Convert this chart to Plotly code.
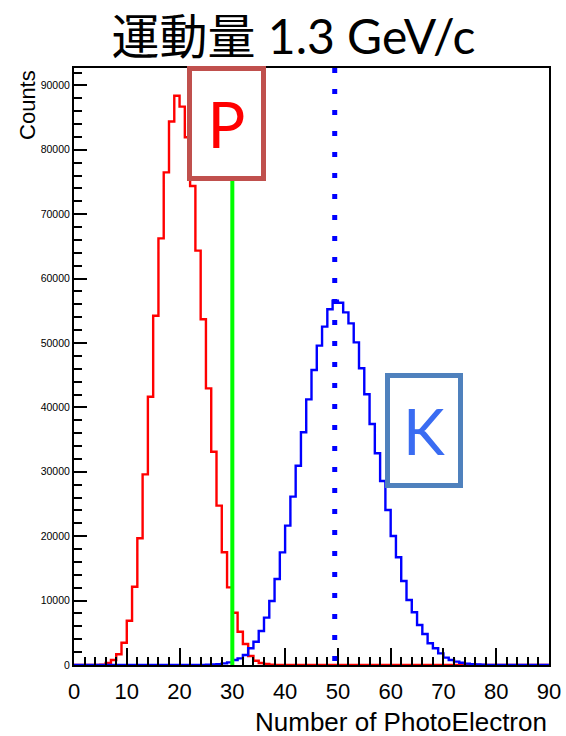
import plotly.graph_objects as go

# ---- data ----
n_bins = 90
bin_width = 1
red_start = 5
red_counts = [30, 300, 780, 1660, 3460, 6880, 12160, 19670, 29600, 41660,
              54240, 66250, 76500, 84400, 88400, 86700, 81940, 74380, 64340, 53680,
              42960, 33120, 24740, 17500, 12060, 8120, 5170, 3260, 1400, 670,
              300, 150, 60, 20]
blue_start = 25
blue_counts = [30, 70, 130, 250, 400, 780, 1035, 1550, 2590, 3620,
               5280, 7350, 9940, 13350, 17490, 21640, 26140, 30950, 36130, 41250,
               45810, 49590, 52540, 55230, 56570, 56260, 54760, 53050, 50100, 46070,
               42030, 37420, 32870, 28570, 24070, 20030, 16720, 13040, 10090, 8180,
               6210, 4810, 3370, 2590, 1810, 1140, 780, 520, 350, 220,
               130, 80, 40, 20]
cut_value = 30
kaon_mean = 49.4
x_ticks = [0, 10, 20, 30, 40, 50, 60, 70, 80, 90]
y_ticks = [0, 10000, 20000, 30000, 40000, 50000, 60000, 70000, 80000, 90000]
y_max = 92700
title_text = "運動量 1.3 GeV/c"


def full_hist(start, counts):
    vals = [0] * n_bins
    for i, c in enumerate(counts):
        vals[start + i] = c
    return vals


edges = [i * bin_width for i in range(n_bins + 1)]
red_full = full_hist(red_start, red_counts)
blue_full = full_hist(blue_start, blue_counts)

fig = go.Figure()
fig.add_trace(go.Scatter(x=edges, y=red_full + [red_full[-1]], mode="lines",
                         line=dict(color="#ff0000", width=2.4, shape="hv"),
                         showlegend=False, hoverinfo="skip"))
fig.add_trace(go.Scatter(x=edges, y=blue_full + [blue_full[-1]], mode="lines",
                         line=dict(color="#0000ff", width=2.4, shape="hv"),
                         showlegend=False, hoverinfo="skip"))

fig.add_shape(type="line", xref="x", yref="y", x0=cut_value, x1=cut_value,
              y0=0, y1=80000, line=dict(color="#00ff00", width=4))
fig.add_shape(type="line", xref="x", yref="y", x0=kaon_mean, x1=kaon_mean,
              y0=y_max, y1=0, line=dict(color="#0000ff", width=5, dash="5px,16px"))

axis_common = dict(showline=True, linecolor="black", linewidth=2, mirror=True,
                   showgrid=False, zeroline=False, ticks="inside",
                   tickcolor="black", tickwidth=2, automargin=False)

fig.update_xaxes(range=[0, 90], tickvals=x_ticks, ticklen=17, ticklabelstandoff=6,
                 minor=dict(dtick=2, ticks="inside", ticklen=8, tickcolor="black", tickwidth=2),
                 tickfont=dict(family="Liberation Sans, Arial", size=22, color="black"),
                 **axis_common)
fig.update_yaxes(range=[0, y_max], tickvals=y_ticks, tickformat="d", ticklen=13,
                 minor=dict(dtick=2000, ticks="inside", ticklen=8, tickcolor="black", tickwidth=2),
                 tickfont=dict(family="Liberation Sans, Arial", size=10.5, color="black"),
                 **axis_common)

annotations = [
    dict(text="P", xref="x", yref="y", x=28.8, y=84160, showarrow=False,
         font=dict(family="Lato", size=63, color="#ff0000"),
         bgcolor="white", bordercolor="#c0504d", borderwidth=5, borderpad=0,
         width=69, height=105, xanchor="center", yanchor="middle"),
    dict(text="K", xref="x", yref="y", x=66.3, y=36490, showarrow=False,
         font=dict(family="Lato", size=63, color="#3a6cf2"),
         bgcolor="white", bordercolor="#4f81bd", borderwidth=5, borderpad=0,
         width=68, height=105, xanchor="center", yanchor="middle"),
    dict(text="Number of PhotoElectron", xref="paper", yref="paper", x=1.0, y=-0.096,
         xanchor="right", yanchor="middle", showarrow=False,
         font=dict(family="Liberation Sans, Arial", size=26, color="black")),
    dict(text="Counts", xref="paper", yref="paper", x=-0.099, y=1.0, textangle=-90,
         xanchor="center", yanchor="top", showarrow=False,
         font=dict(family="Liberation Sans, Arial", size=22, color="black")),
]

fig.update_layout(
    width=566, height=736,
    margin=dict(l=74, r=17, t=68, b=71),
    paper_bgcolor="white", plot_bgcolor="white",
    title=dict(text=title_text,
               x=0.5186, xref="container", xanchor="center",
               y=1 - 37 / 736, yref="container", yanchor="middle",
               font=dict(family="Lato, Noto Sans CJK JP", size=48, color="black")),
    annotations=annotations,
    showlegend=False,
)

fig.write_html("out.html", config={"displayModeBar": False},
               post_script="document.body.style.margin='0';document.body.style.overflow='hidden';")
